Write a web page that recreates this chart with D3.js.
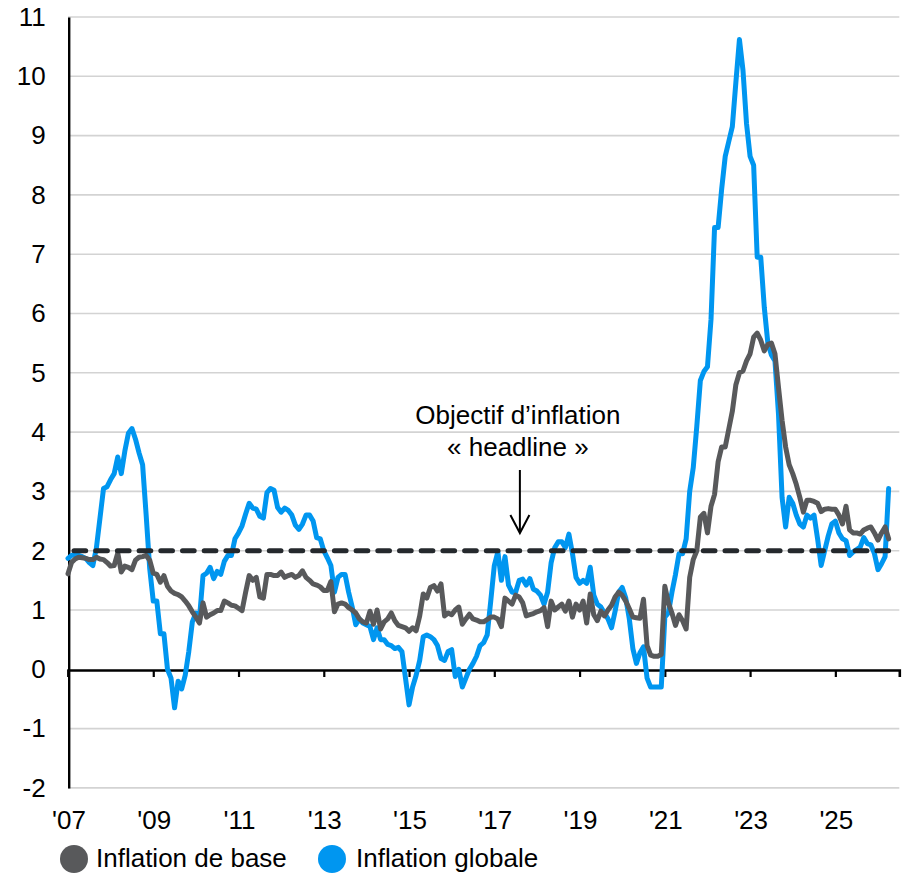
<!DOCTYPE html>
<html>
<head>
<meta charset="utf-8">
<script src="https://cdn.jsdelivr.net/npm/d3@7"></script>
<style>
  html, body { margin: 0; padding: 0; background: #fff; }
  svg { display: block; }
  text { font-family: "Liberation Sans", Arial, sans-serif; fill: #000; }
</style>
</head>
<body>
<svg id="chart" width="910" height="877"></svg>
<script>
// Monthly year-over-year inflation (%), starting January 2007
const startYear = 2007;

const headline = [
  1.87, 1.92, 1.94, 1.92, 1.9, 1.87, 1.8, 1.75, 2.05, 2.55, 3.05, 3.08,   // 2007
  3.2, 3.3, 3.58, 3.3, 3.68, 3.98, 4.06, 3.88, 3.65, 3.45, 2.6, 1.7,      // 2008
  1.15, 1.15, 0.6, 0.6, 0.0, -0.15, -0.65, -0.2, -0.33, -0.1, 0.3, 0.8,   // 2009
  0.95, 0.85, 1.58, 1.62, 1.72, 1.53, 1.65, 1.6, 1.82, 1.92, 1.92, 2.2,   // 2010
  2.3, 2.42, 2.62, 2.8, 2.72, 2.7, 2.58, 2.55, 2.98, 3.05, 3.02, 2.73,    // 2011
  2.65, 2.72, 2.68, 2.6, 2.43, 2.36, 2.45, 2.6, 2.6, 2.5, 2.22, 2.2,      // 2012
  2.0, 1.88, 1.75, 1.3, 1.55, 1.6, 1.6, 1.3, 1.05, 0.75, 0.85, 0.78,     // 2013
  0.75, 0.72, 0.5, 0.7, 0.5, 0.5, 0.42, 0.4, 0.35, 0.37, 0.3, -0.15,     // 2014
  -0.6, -0.3, -0.1, 0.15, 0.55, 0.58, 0.55, 0.5, 0.4, 0.18, 0.15, 0.3,   // 2015
  0.33, -0.12, 0.0, -0.3, -0.15, 0.0, 0.1, 0.22, 0.4, 0.45, 0.58, 1.15,  // 2016
  1.75, 1.98, 1.5, 1.9, 1.42, 1.3, 1.3, 1.5, 1.52, 1.42, 1.53, 1.35,     // 2017
  1.32, 1.25, 1.1, 1.3, 1.8, 2.05, 2.15, 2.15, 2.05, 2.28, 1.95, 1.55,   // 2018
  1.45, 1.5, 1.45, 1.72, 1.25, 1.1, 1.05, 0.95, 0.85, 0.7, 0.98, 1.3,    // 2019
  1.38, 1.2, 0.85, 0.35, 0.1, 0.28, 0.38, -0.15, -0.3, -0.3, -0.3, -0.3, // 2020
  0.88, 0.95, 1.3, 1.6, 1.95, 1.95, 2.2, 3.0, 3.4, 4.1, 4.87, 5.02,      // 2021
  5.1, 5.9, 7.45, 7.45, 8.1, 8.65, 8.9, 9.15, 9.9, 10.62, 10.1, 9.2,     // 2022
  8.65, 8.5, 6.95, 6.95, 6.1, 5.5, 5.3, 5.2, 4.3, 2.9, 2.4, 2.9,         // 2023
  2.8, 2.6, 2.45, 2.4, 2.6, 2.55, 2.6, 2.2, 1.75, 2.0, 2.25, 2.45,       // 2024
  2.5, 2.3, 2.2, 2.17, 1.92, 1.98, 2.02, 2.06, 2.22, 2.12, 2.1, 1.95,    // 2025
  1.68, 1.78, 1.9, 3.05                                                  // 2026
];

const core = [
  1.61, 1.8, 1.86, 1.89, 1.88, 1.87, 1.85, 1.85, 1.89, 1.86, 1.85, 1.8,  // 2007
  1.74, 1.75, 1.96, 1.64, 1.74, 1.72, 1.68, 1.84, 1.89, 1.9, 1.92, 1.84, // 2008
  1.62, 1.6, 1.47, 1.58, 1.4, 1.32, 1.28, 1.26, 1.22, 1.15, 1.07, 0.97,  // 2009
  0.88, 0.78, 1.12, 0.88, 0.92, 0.95, 0.99, 0.99, 1.15, 1.12, 1.08, 1.07,// 2010
  1.03, 0.99, 1.3, 1.58, 1.5, 1.55, 1.22, 1.2, 1.6, 1.6, 1.58, 1.58,     // 2011
  1.64, 1.55, 1.58, 1.6, 1.55, 1.58, 1.66, 1.55, 1.5, 1.44, 1.42, 1.39,  // 2012
  1.33, 1.33, 1.48, 0.97, 1.1, 1.12, 1.1, 1.04, 1.0, 0.95, 0.85, 0.8,    // 2013
  0.78, 0.98, 0.76, 1.0, 0.68, 0.8, 0.85, 0.95, 0.82, 0.74, 0.72, 0.7,   // 2014
  0.64, 0.7, 0.65, 0.9, 1.27, 1.2, 1.38, 1.41, 1.32, 1.44, 0.9, 0.95,    // 2015
  0.92, 1.0, 1.05, 0.76, 0.85, 0.93, 0.85, 0.83, 0.8, 0.8, 0.84, 0.88,   // 2016
  0.88, 0.85, 0.72, 1.2, 1.15, 1.1, 1.25, 1.22, 1.12, 0.9, 0.92, 0.94,   // 2017
  0.97, 0.99, 1.04, 0.72, 1.15, 1.0, 1.05, 1.1, 0.98, 1.15, 0.88, 1.1,   // 2018
  1.0, 1.15, 0.78, 1.27, 0.92, 0.82, 0.98, 0.9, 1.0, 1.08, 1.22, 1.3,    // 2019
  1.25, 1.15, 1.02, 0.88, 0.87, 0.86, 1.18, 0.4, 0.24, 0.22, 0.22, 0.25, // 2020
  1.4, 1.12, 0.95, 0.74, 0.92, 0.82, 0.68, 1.55, 1.85, 2.0, 2.57, 2.63,  // 2021
  2.3, 2.75, 2.95, 3.5, 3.75, 3.75, 4.05, 4.35, 4.8, 5.0, 5.03, 5.2,     // 2022
  5.32, 5.6, 5.67, 5.55, 5.37, 5.48, 5.5, 5.32, 4.75, 4.2, 3.75, 3.45,   // 2023
  3.3, 3.12, 2.9, 2.65, 2.85, 2.85, 2.83, 2.8, 2.66, 2.7, 2.71, 2.7,     // 2024
  2.7, 2.6, 2.45, 2.75, 2.35, 2.3, 2.3, 2.28, 2.35, 2.38, 2.4, 2.3,      // 2025
  2.18, 2.3, 2.4, 2.2                                                    // 2026
];

const target = 2;
const yTicks = [-2, -1, 0, 1, 2, 3, 4, 5, 6, 7, 8, 9, 10, 11];
const xTickYears = [2007, 2009, 2011, 2013, 2015, 2017, 2019, 2021, 2023, 2025];
const seriesNames = ["Inflation de base", "Inflation globale"];
const annotationLines = ["Objectif d\u2019inflation", "\u00ab headline \u00bb"];
const annotationYear = 2017.6;

const colors = { core: "#58595b", headline: "#0096f0", target: "#25292d", grid: "#d3d3d3" };

const svg = d3.select("#chart");

const x = d3.scaleLinear().domain([2007, 2026.5]).range([68, 899.3]);
const y = d3.scaleLinear().domain([-2, 11]).range([787.9, 17.0]);

const toPoints = arr => arr.map((v, i) => ({ t: startYear + i / 12, v }));

// Horizontal gridlines
svg.append("g")
  .selectAll("line")
  .data(yTicks.filter(d => d !== 0))
  .join("line")
  .attr("x1", x(2007)).attr("x2", x(2026.5))
  .attr("y1", d => y(d)).attr("y2", d => y(d))
  .attr("stroke", colors.grid)
  .attr("stroke-width", 1.6);

// Y axis (left): labels plus the vertical rule; plain hyphen for negatives
const yAxis = svg.append("g")
  .attr("transform", `translate(${x(2007) + 0.7},0)`)
  .call(d3.axisLeft(y).tickValues(yTicks).tickSize(0).tickPadding(23).tickFormat(d => String(d)));
yAxis.select(".domain").attr("stroke", "#000").attr("stroke-width", 2.4);
yAxis.selectAll("text")
  .style("font-size", "26px")
  .style("font-family", '"Liberation Sans", Arial, sans-serif');

// Zero line with year ticks
const xAxis = svg.append("g")
  .attr("transform", `translate(0,${y(0) + 0.7})`)
  .call(d3.axisBottom(x).tickValues(xTickYears).tickSize(7).tickFormat(""));
xAxis.select(".domain").attr("stroke", "#000").attr("stroke-width", 2.6);
xAxis.selectAll(".tick line").attr("stroke", "#000").attr("stroke-width", 2.2);

// Year labels along the bottom
svg.append("g")
  .selectAll("text")
  .data(xTickYears)
  .join("text")
  .attr("x", d => x(d) + 1)
  .attr("y", 829)
  .attr("text-anchor", "middle")
  .style("font-size", "26px")
  .text(d => "'" + String(d).slice(2));

// Series lines
const line = d3.line().x(d => x(d.t)).y(d => y(d.v));

svg.append("path")
  .datum(toPoints(headline))
  .attr("fill", "none")
  .attr("stroke", colors.headline)
  .attr("stroke-width", 5)
  .attr("stroke-linejoin", "round")
  .attr("stroke-linecap", "round")
  .attr("d", line);

svg.append("path")
  .datum(toPoints(core))
  .attr("fill", "none")
  .attr("stroke", colors.core)
  .attr("stroke-width", 5)
  .attr("stroke-linejoin", "round")
  .attr("stroke-linecap", "round")
  .attr("d", line);

// 2% target
svg.append("line")
  .attr("x1", x(2007) + 6).attr("x2", x(2026.5) - 3)
  .attr("y1", y(target)).attr("y2", y(target))
  .attr("stroke", colors.target)
  .attr("stroke-width", 5)
  .attr("stroke-linecap", "round")
  .attr("stroke-dasharray", "11.7,10");

// Annotation and arrow
const ax = x(annotationYear);
svg.append("g")
  .selectAll("text")
  .data(annotationLines)
  .join("text")
  .attr("x", ax - 2)
  .attr("y", (d, i) => 424 + i * 32)
  .attr("text-anchor", "middle")
  .style("font-size", "26px")
  .text(d => d);

const arrow = svg.append("g").attr("stroke", "#000").attr("stroke-width", 2).attr("fill", "none");
arrow.append("line").attr("x1", ax).attr("x2", ax).attr("y1", 470).attr("y2", 532);
arrow.append("polyline")
  .attr("points", `${ax - 9.5},515 ${ax},533 ${ax + 9.5},515`);

// Legend
const legend = svg.append("g");
const legendItems = [
  { name: seriesNames[0], color: colors.core, cx: 74, tx: 96 },
  { name: seriesNames[1], color: colors.headline, cx: 332, tx: 356 }
];
legendItems.forEach(it => {
  legend.append("circle").attr("cx", it.cx).attr("cy", 859).attr("r", 14).attr("fill", it.color);
  legend.append("text").attr("x", it.tx).attr("y", 867).style("font-size", "26px").text(it.name);
});
</script>
</body>
</html>
